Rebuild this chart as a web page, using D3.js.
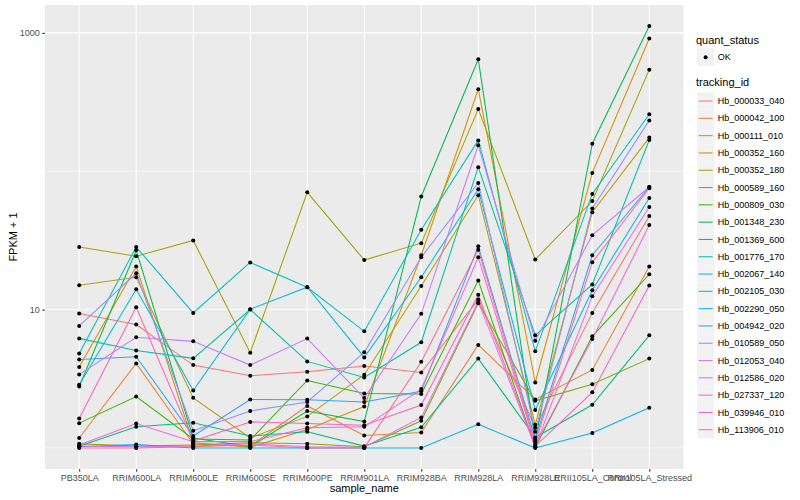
<!DOCTYPE html>
<html>
<head>
<meta charset="utf-8">
<script src="https://cdn.jsdelivr.net/npm/d3@7"></script>
<style>
  html, body { margin: 0; padding: 0; background: #ffffff; }
  svg { display: block; font-family: "Liberation Sans", Arial, Helvetica, sans-serif; }
</style>
</head>
<body>
<svg id="chart" width="800" height="500"></svg>
<script>
// ---------------- data ----------------
const categories = ["PB350LA", "RRIM600LA", "RRIM600LE", "RRIM600SE", "RRIM600PE", "RRIM901LA",
  "RRIM928BA", "RRIM928LA", "RRIM928LE", "RRII105LA_Control", "RRII105LA_Stressed"];

const trackingIds = ["Hb_000033_040", "Hb_000042_100", "Hb_000111_010", "Hb_000352_160", "Hb_000352_180",
  "Hb_000589_160", "Hb_000809_030", "Hb_001348_230", "Hb_001369_600", "Hb_001776_170", "Hb_002067_140",
  "Hb_002105_030", "Hb_002290_050", "Hb_004942_020", "Hb_010589_050", "Hb_012053_040", "Hb_012586_020",
  "Hb_027337_120", "Hb_039946_010", "Hb_113906_010"];

const quantStatus = ["OK"];
const yTickValues = [10, 1000];
const yMinorValues = [1, 100];

// FPKM + 1 per tracking id, in the order of categories
const hb_000033_040 = [9.35, 7.79, 3.97, 3.32, 3.55, 3.91, 3.51, 11.8, 1.40, 9.46, 47.4];
const hb_000042_100 = [1.18, 4.08, 1.07, 1.03, 2.01, 1.23, 1.29, 5.55, 2.24, 3.66, 20.5];
const hb_000111_010 = [3.85, 20.5, 1.09, 1.01, 1.36, 1.99, 24.7, 391, 2.97, 97.2, 910];
const hb_000352_160 = [15.0, 17.1, 2.30, 1.18, 1.69, 3.38, 14.8, 67.0, 1.47, 50.5, 175];
const hb_000352_180 = [28.3, 24.3, 31.6, 4.88, 70.4, 22.8, 30.2, 281, 23.0, 60.9, 542];
const hb_000589_160 = [1.07, 1.03, 1.05, 1.09, 1.07, 1.02, 1.57, 11.1, 2.19, 2.88, 4.42];
const hb_000809_030 = [1.51, 2.35, 1.16, 1.14, 3.07, 2.47, 2.45, 16.2, 1.01, 6.41, 18.0];
const hb_001348_230 = [2.78, 26.8, 1.18, 1.02, 1.85, 1.55, 65.6, 645, 1.12, 158, 1119];
const hb_001369_600 = [1.03, 1.42, 1.52, 1.22, 1.31, 1.03, 1.41, 4.42, 1.19, 2.05, 6.51];
const hb_001776_170 = [6.19, 5.05, 4.44, 10.0, 4.22, 3.23, 5.80, 107, 6.51, 15.2, 168];
const hb_002067_140 = [4.82, 28.3, 9.46, 21.9, 14.5, 6.96, 37.8, 167, 4.99, 68.5, 258];
const hb_002105_030 = [2.86, 14.0, 2.60, 10.05, 14.5, 4.51, 17.1, 74.1, 1.88, 13.8, 64.1];
const hb_002290_050 = [1.02, 1.06, 1.00, 1.00, 1.00, 1.00, 1.00, 1.48, 1.00, 1.28, 1.95];
const hb_004942_020 = [4.36, 4.56, 1.22, 2.24, 2.23, 2.15, 2.57, 28.7, 1.16, 24.7, 76.9];
const hb_010589_050 = [7.62, 18.3, 1.33, 1.85, 2.15, 4.91, 23.9, 82.3, 1.31, 53.7, 233];
const hb_012053_040 = [3.40, 6.30, 5.89, 3.97, 6.17, 2.29, 9.31, 154, 5.96, 34.5, 76.9];
const hb_012586_020 = [1.03, 1.02, 1.03, 1.07, 1.02, 1.01, 1.66, 11.4, 1.02, 12.5, 55.1];
const hb_027337_120 = [1.05, 1.50, 1.11, 1.11, 1.40, 1.42, 2.66, 23.9, 1.05, 6.13, 40.8];
const hb_039946_010 = [1.63, 10.4, 1.12, 1.54, 1.50, 1.46, 2.04, 12.8, 1.03, 2.52, 14.9];
const hb_113906_010 = [1.00, 1.00, 1.02, 1.05, 1.00, 1.00, 4.20, 27.1, 1.09, 22.0, 75.3];

const seriesValues = [hb_000033_040, hb_000042_100, hb_000111_010, hb_000352_160, hb_000352_180,
  hb_000589_160, hb_000809_030, hb_001348_230, hb_001369_600, hb_001776_170, hb_002067_140,
  hb_002105_030, hb_002290_050, hb_004942_020, hb_010589_050, hb_012053_040, hb_012586_020,
  hb_027337_120, hb_039946_010, hb_113906_010];

// ---------------- styling ----------------
const palette = ["#F8766D", "#EA8331", "#D89000", "#C09B00", "#A3A500", "#7CAE00", "#39B600", "#00BB4E",
  "#00BF7D", "#00C1A3", "#00BFC4", "#00BAE0", "#00B0F6", "#35A2FF", "#9590FF", "#C77CFF", "#E76BF3",
  "#FA62DB", "#FF62BC", "#FF6C91"];

const W = 800, H = 500;
const panel = { left: 45, right: 683.5, top: 5, bottom: 469 };

const series = trackingIds.map((id, i) => ({
  id, color: palette[i],
  points: categories.map((c, j) => ({ cat: c, v: seriesValues[i][j] }))
}));

const svg = d3.select("#chart");

// scales
const x = d3.scalePoint().domain(categories).range([panel.left, panel.right]).padding(0.6);

const allVals = seriesValues.flat();
const lmin = Math.log10(d3.min(allVals)), lmax = Math.log10(d3.max(allVals));
const pad = (lmax - lmin) * 0.05;
const y = d3.scaleLog()
  .domain([Math.pow(10, lmin - pad), Math.pow(10, lmax + pad)])
  .range([panel.bottom, panel.top]);

// panel background
svg.append("rect")
  .attr("x", panel.left).attr("y", panel.top)
  .attr("width", panel.right - panel.left).attr("height", panel.bottom - panel.top)
  .attr("fill", "#EBEBEB");

const grid = svg.append("g");
grid.selectAll("line.minor").data(yMinorValues).join("line")
  .attr("x1", panel.left).attr("x2", panel.right)
  .attr("y1", d => y(d)).attr("y2", d => y(d))
  .attr("stroke", "#ffffff").attr("stroke-width", 0.55);
grid.selectAll("line.majory").data(yTickValues).join("line")
  .attr("x1", panel.left).attr("x2", panel.right)
  .attr("y1", d => y(d)).attr("y2", d => y(d))
  .attr("stroke", "#ffffff").attr("stroke-width", 1.1);
grid.selectAll("line.majorx").data(categories).join("line")
  .attr("x1", d => x(d)).attr("x2", d => x(d))
  .attr("y1", panel.top).attr("y2", panel.bottom)
  .attr("stroke", "#ffffff").attr("stroke-width", 1.1);

// lines
const line = d3.line().x(d => x(d.cat)).y(d => y(d.v));
svg.append("g").selectAll("path").data(series).join("path")
  .attr("d", d => line(d.points))
  .attr("fill", "none")
  .attr("stroke", d => d.color)
  .attr("stroke-width", 1.05);

// points
svg.append("g").selectAll("circle")
  .data(series.flatMap(s => s.points))
  .join("circle")
  .attr("cx", d => x(d.cat)).attr("cy", d => y(d.v))
  .attr("r", 2).attr("fill", "#000000");

// axes
const xAxis = d3.axisBottom(x).tickSize(2.75).tickPadding(2.5);
const gx = svg.append("g").attr("transform", `translate(0,${panel.bottom})`).call(xAxis);
gx.select(".domain").remove();
gx.selectAll(".tick line").attr("stroke", "#333333").attr("stroke-width", 1.05);
gx.selectAll(".tick text").attr("fill", "#4D4D4D").attr("font-size", 9)
  .attr("font-family", "'Liberation Sans', Arial, sans-serif");

const yAxis = d3.axisLeft(y).tickValues(yTickValues).tickFormat(d3.format("d")).tickSize(2.75).tickPadding(2.5);
const gy = svg.append("g").attr("transform", `translate(${panel.left},0)`).call(yAxis);
gy.select(".domain").remove();
gy.selectAll(".tick line").attr("stroke", "#333333").attr("stroke-width", 1.05);
gy.selectAll(".tick text").attr("fill", "#4D4D4D").attr("font-size", 9)
  .attr("font-family", "'Liberation Sans', Arial, sans-serif");

// axis titles
svg.append("text")
  .attr("x", (panel.left + panel.right) / 2).attr("y", 492)
  .attr("text-anchor", "middle").attr("font-size", 11).attr("fill", "#000")
  .text("sample_name");
svg.append("text")
  .attr("transform", `translate(17,${(panel.top + panel.bottom) / 2}) rotate(-90)`)
  .attr("text-anchor", "middle").attr("font-size", 11).attr("fill", "#000")
  .text("FPKM + 1");

// legend: quant_status
const lg = svg.append("g");
const keyX = 697, keyW = 17.3, keyH = 17.3;
lg.append("text").attr("x", 696).attr("y", 44).attr("font-size", 11).attr("fill", "#000").text("quant_status");
const qs = lg.selectAll("g.qs").data(quantStatus).join("g")
  .attr("transform", (d, i) => `translate(${keyX},${48.5 + i * keyH})`);
qs.append("rect").attr("width", keyW).attr("height", keyH).attr("fill", "#F2F2F2");
qs.append("circle").attr("cx", keyW / 2).attr("cy", keyH / 2).attr("r", 2).attr("fill", "#000");
qs.append("text").attr("x", keyW + 3.5).attr("y", keyH / 2).attr("dy", "0.35em")
  .attr("font-size", 9).attr("fill", "#000").text(d => d);

// legend: tracking_id
lg.append("text").attr("x", 696).attr("y", 86).attr("font-size", 11).attr("fill", "#000").text("tracking_id");
const ti = lg.selectAll("g.ti").data(series).join("g")
  .attr("transform", (d, i) => `translate(${keyX},${92.4 + i * keyH})`);
ti.append("rect").attr("width", keyW).attr("height", keyH).attr("fill", "#F2F2F2");
ti.append("line").attr("x1", 1.7).attr("x2", keyW - 1.7)
  .attr("y1", keyH / 2).attr("y2", keyH / 2)
  .attr("stroke", d => d.color).attr("stroke-width", 1.05);
ti.append("text").attr("x", keyW + 3.5).attr("y", keyH / 2).attr("dy", "0.35em")
  .attr("font-size", 9).attr("fill", "#000").text(d => d.id);
</script>
</body>
</html>
